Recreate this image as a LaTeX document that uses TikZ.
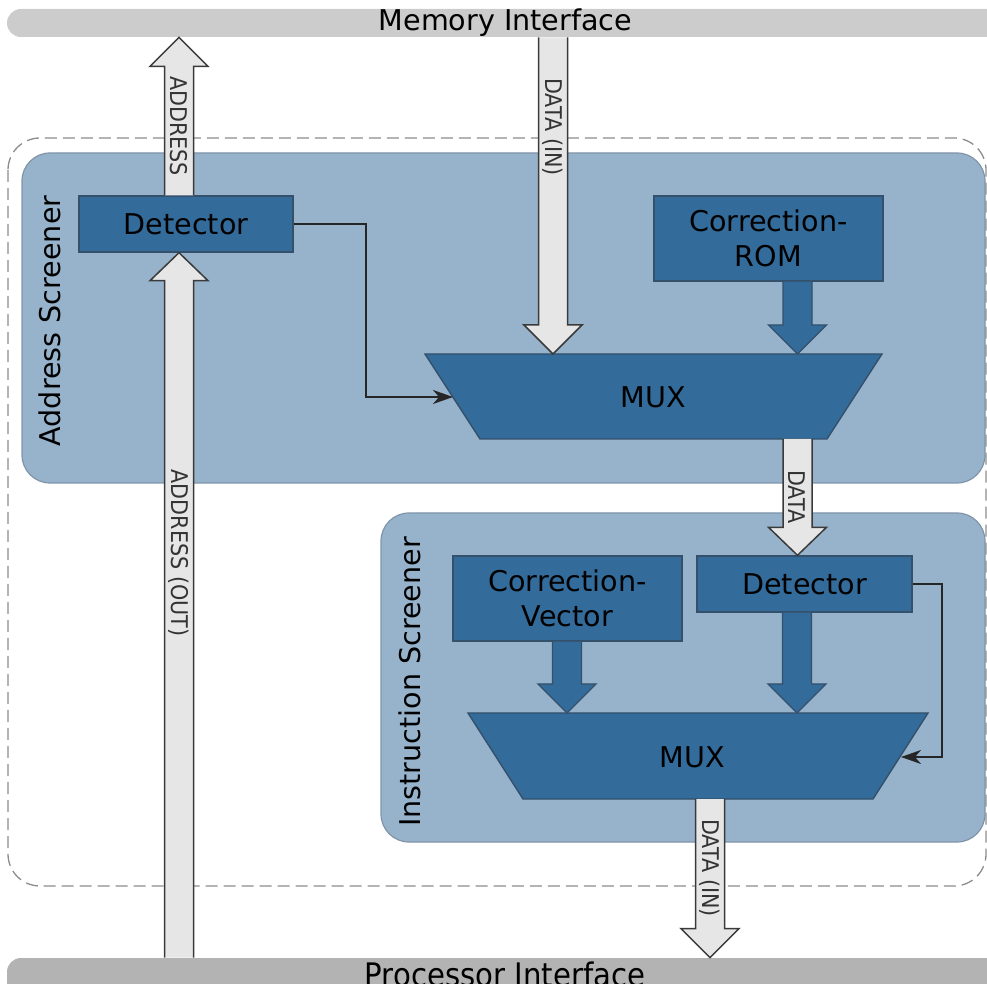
\documentclass[tikz,border=0pt]{standalone}
\usepackage{fontspec}
\setmainfont{DejaVu Sans}
\newfontfamily\narrowfont[FakeStretch=0.9]{DejaVu Sans}
\usetikzlibrary{calc,arrows.meta}

\definecolor{barlight}{HTML}{CCCCCC}
\definecolor{bardark}{HTML}{B3B3B3}
\definecolor{screenfill}{HTML}{97B3CC}
\definecolor{screenline}{HTML}{8094A8}
\definecolor{unitfill}{HTML}{336B9A}
\definecolor{unitline}{HTML}{34506A}
\definecolor{busfill}{HTML}{E6E6E6}
\definecolor{busline}{HTML}{3A3A3A}
\definecolor{frameline}{HTML}{8C8C8C}

% vertical block arrow: #1 style, #2 tail, #3 tip, #4 offset from tip to head base
\newcommand{\blockarrow}[4]{%
  \path[#1,draw=none] ($(#2)+(-14.5,0)$) -- ($(#3)+(-14.5,#4)$) -- ($(#3)+(-29,#4)$) -- (#3)
    -- ($(#3)+(29,#4)$) -- ($(#3)+(14.5,#4)$) -- ($(#2)+(14.5,0)$) -- cycle;
  \path[#1,fill=none] ($(#2)+(-14.5,0)$) -- ($(#3)+(-14.5,#4)$) -- ($(#3)+(-29,#4)$) -- (#3)
    -- ($(#3)+(29,#4)$) -- ($(#3)+(14.5,#4)$) -- ($(#2)+(14.5,0)$);}

\begin{document}
\begin{tikzpicture}[x=0.5pt,y=-0.5pt,
  unit/.style={draw=unitline, fill=unitfill, line width=0.7pt, inner sep=0pt,
    font=\fontsize{14.3}{17.5}\selectfont, align=center},
  muxshape/.style={draw=unitline, fill=unitfill, line width=0.7pt, line join=miter},
  bus/.style={draw=busline, fill=busfill, line width=0.75pt, line join=miter},
  feed/.style={draw=unitline, fill=unitfill, line width=0.7pt, line join=miter},
  wire/.style={draw=black!85, line width=0.8pt, -{Stealth[length=10pt,width=7pt,inset=3pt]}},
  buslabel/.style={font=\narrowfont\fontsize{11.5}{13}\selectfont, text=black!80, inner sep=0pt},
  title/.style={font=\fontsize{14.3}{17}\selectfont, inner sep=0pt},
  screen/.style={draw=screenline, fill=screenfill, line width=0.6pt, rounded corners=14pt},
  bar/.style={rounded corners=7pt, inner sep=0pt}
]
\useasboundingbox (0,0) rectangle (987,984);

% interface buses
\node[bar, fill=barlight, minimum width=511.5pt, minimum height=14pt] (mem) at (518.5,23) {};
\node[bar, fill=bardark, minimum width=511.5pt, minimum height=21pt] (proc) at (518.5,979) {};
\node[title, anchor=base] (memLbl) at (505.5,30.5) {Memory Interface};
\node[font=\narrowfont\fontsize{16.2}{19}\selectfont, inner sep=0pt, anchor=base] (procLbl) at (505,986) {Processor Interface};

% enclosing frame
\draw[frameline, dash pattern=on 6pt off 3pt, line width=0.65pt, rounded corners=16pt]
  (8,138) rectangle (986,886);

% screener areas
\draw[screen] (22,153) rectangle (985,483);
\draw[screen] (381,513) rectangle (985,842);
\node[title, rotate=90] (ascLbl) at (50,321) {Address Screener};
\node[title, rotate=90] (iscLbl) at (410,682) {Instruction Screener};

% multiplexers
\draw[muxshape] (425,354) -- (882,354) -- (827,439) -- (480,439) -- cycle;
\draw[muxshape] (468,713) -- (928,713) -- (873,799) -- (523,799) -- cycle;
\node[title] (mux1) at (653.5,397) {MUX};
\node[title] (mux2) at (692,757) {MUX};

% functional units
\node[unit, minimum width=107pt, minimum height=28pt] (det1) at (186,224) {Detector};
\node[unit, minimum width=114.5pt, minimum height=42.5pt] (rom) at (768.5,238.5) {Correction-\\ROM};
\node[unit, minimum width=107.5pt, minimum height=28pt] (det2) at (804.5,584) {Detector};
\node[unit, minimum width=114.5pt, minimum height=42.5pt] (cvec) at (567.5,598.5) {Correction-\\Vector};

% arrow end points
\coordinate (adrUpTail) at (det1.north -| 179,0);
\coordinate (adrUpTip) at (mem.south -| 179,0);
\coordinate (adrOutTail) at (proc.north -| 179,0);
\coordinate (adrOutTip) at (det1.south -| 179,0);
\coordinate (dinTail) at (mem.south -| 553,0);
\coordinate (dinTip) at (553,354);
\coordinate (romTail) at (rom.south -| 797.5,0);
\coordinate (romTip) at (797.5,354);
\coordinate (dataTail) at (797.5,439);
\coordinate (dataTip) at (det2.north -| 797.5,0);
\coordinate (cvTail) at (cvec.south -| 567,0);
\coordinate (cvTip) at (567,713);
\coordinate (detTail) at (det2.south -| 797,0);
\coordinate (detTip) at (797,713);
\coordinate (doutTail) at (710,799);
\coordinate (doutTip) at (proc.north -| 710,0);

% block arrows
\blockarrow{bus}{adrUpTail}{adrUpTip}{29}
\blockarrow{bus}{adrOutTail}{adrOutTip}{28}
\blockarrow{bus}{dinTail}{dinTip}{-29}
\blockarrow{feed}{romTail}{romTip}{-29}
\blockarrow{bus}{dataTail}{dataTip}{-28}
\blockarrow{feed}{cvTail}{cvTip}{-29}
\blockarrow{feed}{detTail}{detTip}{-29}
\blockarrow{bus}{doutTail}{doutTip}{-29}

% bus labels
\node[buslabel, rotate=-90] (lblAdr) at (179,126) {ADDRESS};
\node[buslabel, rotate=-90] (lblAdrOut) at (179,553) {ADDRESS (OUT)};
\node[buslabel, rotate=-90] (lblDin) at (553,127) {DATA (IN)};
\node[buslabel, rotate=-90] (lblData) at (797,497) {DATA};
\node[buslabel, rotate=-90] (lblDout) at (710,868) {DATA (IN)};

% select lines
\coordinate (m1bend) at (366,397);
\coordinate (m1in) at (453,397);
\draw[wire] (det1.east) -| (m1bend) -- (m1in);
\coordinate (m2bend) at (942,757);
\coordinate (m2in) at (901,757);
\draw[wire] (det2.east) -| (m2bend) -- (m2in);
\end{tikzpicture}
\end{document}
